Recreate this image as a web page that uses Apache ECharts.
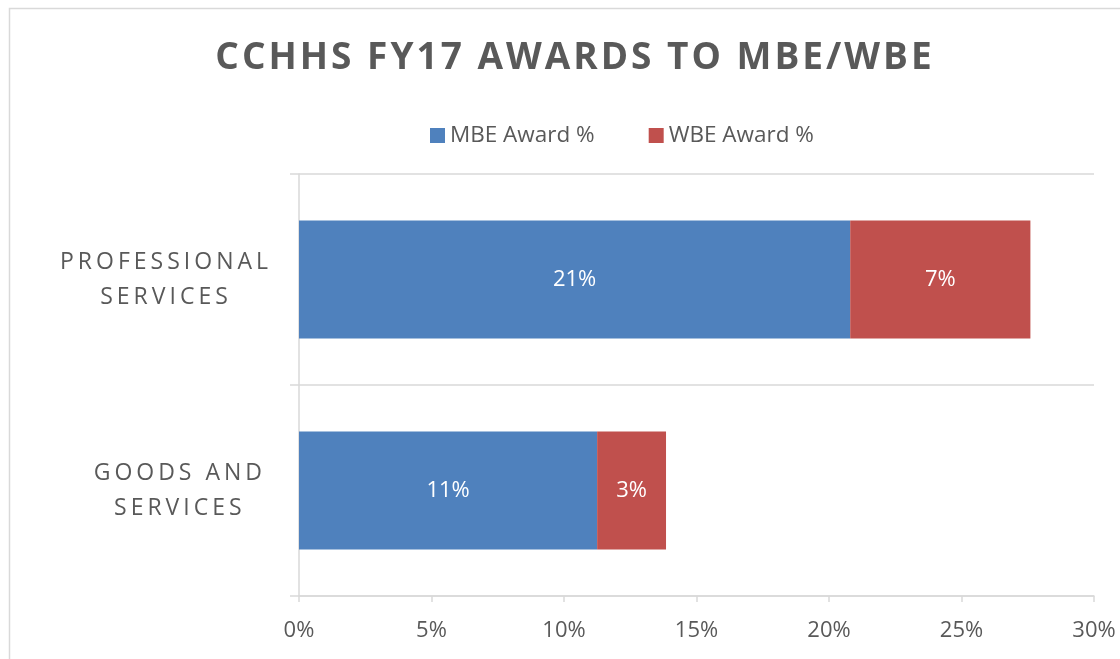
<!DOCTYPE html>
<html>
<head>
<meta charset="utf-8">
<script src="https://cdn.jsdelivr.net/npm/echarts@6/dist/echarts.min.js"></script>
<style>
  html, body { margin: 0; padding: 0; background: #fff; }
  #chart { width: 1120px; height: 659px; }
</style>
</head>
<body>
<div id="chart"></div>
<script>
var categories = ['GOODS AND\nSERVICES', 'PROFESSIONAL\nSERVICES']
var mbeAward = [11.25, 20.8]
var wbeAward = [2.6, 6.8]
var xTicks = [0, 5, 10, 15, 20, 25, 30]

// excel style letter spacing for title and category names (picked out by font size)
var origFillText = CanvasRenderingContext2D.prototype.fillText
CanvasRenderingContext2D.prototype.fillText = function (text, x, y, maxWidth) {
  if (/\b37px/.test(this.font)) {
    this.letterSpacing = '3px'
  } else if (/\b23px/.test(this.font)) {
    this.letterSpacing = '4px'
  } else {
    this.letterSpacing = '0px'
  }
  if (maxWidth === undefined) {
    return origFillText.call(this, text, x, y)
  }
  return origFillText.call(this, text, x, y, maxWidth)
}

var textColor = '#595959'
var lineColor = '#d9d9d9'
var font = '"Open Sans"'

var chart = echarts.init(document.getElementById('chart'), null, { renderer: 'canvas' })

var valueLabel = {
  show: true,
  position: 'inside',
  color: '#fff',
  fontFamily: font,
  fontSize: 22,
  formatter: function (p) { return Math.round(p.value) + '%' }
}

var option = {
  backgroundColor: '#fff',
  animation: false,
  title: {
    text: 'CCHHS FY17 AWARDS TO MBE/WBE',
    left: 570,
    textAlign: 'center',
    top: 35,
    textStyle: {
      color: textColor,
      fontFamily: font,
      fontWeight: 'bold',
      fontSize: 37
    }
  },
  legend: {
    left: 425,
    top: 119,
    itemWidth: 15,
    itemHeight: 15,
    itemGap: 54,
    icon: 'rect',
    textStyle: {
      color: textColor,
      fontFamily: font,
      fontSize: 22.5
    }
  },
  graphic: [{
    type: 'rect',
    shape: { x: 9.5, y: 8.5, width: 1200, height: 700 },
    style: { fill: 'none', stroke: lineColor, lineWidth: 1.5 },
    silent: true
  }],
  grid: {
    left: 299,
    right: 26,
    top: 174,
    bottom: 63
  },
  xAxis: {
    type: 'value',
    min: 0,
    max: 30,
    interval: 5,
    axisLine: { show: true, lineStyle: { color: lineColor, width: 1.5 } },
    axisTick: { show: true, length: 6, lineStyle: { color: lineColor, width: 1.5 } },
    splitLine: { show: false },
    axisLabel: {
      color: textColor,
      fontFamily: font,
      fontSize: 22,
      margin: 24,
      formatter: function (value) {
        return xTicks.indexOf(value) >= 0 ? value + '%' : ''
      }
    }
  },
  yAxis: {
    type: 'category',
    data: categories,
    axisLine: { show: true, lineStyle: { color: lineColor, width: 1.5 } },
    axisTick: { show: true, length: 9, lineStyle: { color: lineColor, width: 1.5 } },
    splitLine: { show: true, lineStyle: { color: lineColor, width: 1.5 } },
    axisLabel: {
      margin: 51,
      lineHeight: 35,
      formatter: function (value) {
        return value.split('\n').map(function (s) { return '{c|' + s + '}' }).join('\n')
      },
      rich: {
        c: {
          align: 'center',
          color: textColor,
          fontFamily: font,
          fontSize: 23,
          lineHeight: 35
        }
      }
    }
  },
  series: [{
    name: 'MBE Award %',
    type: 'bar',
    stack: 'award',
    barWidth: '56%',
    itemStyle: { color: '#4f81bd' },
    label: valueLabel,
    data: mbeAward
  }, {
    name: 'WBE Award %',
    type: 'bar',
    stack: 'award',
    barWidth: '56%',
    itemStyle: { color: '#c0504d' },
    label: valueLabel,
    data: wbeAward
  }]
}

chart.setOption(option)
</script>
</body>
</html>
